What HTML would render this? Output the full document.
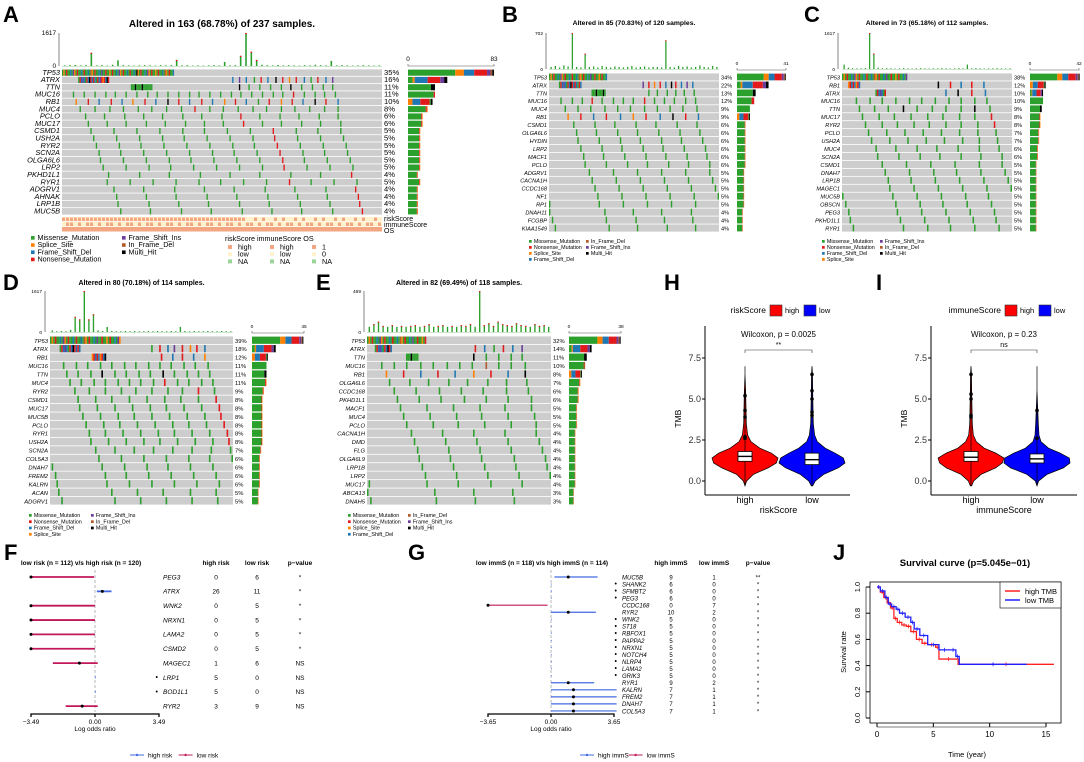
<!DOCTYPE html>
<html><head><meta charset="utf-8"><style>
html,body{margin:0;padding:0;background:#fff;}
svg{display:block;font-family:"Liberation Sans",Arial,sans-serif;}
</style></head><body>
<svg id="c" width="1084" height="762" viewBox="0 0 1084 762"></svg>
<script>
// ---------- DATA ----------
const genesA=["TP53","ATRX","TTN","MUC16","RB1","MUC4","PCLO","MUC17","CSMD1","USH2A","RYR2","SCN2A","OLGA6L6","LRP2","PKHD1L1","RYR1","ADGRV1","AHNAK","LRP1B","MUC5B"];
const pctA=[35,16,11,11,10,8,6,6,5,5,5,5,5,5,4,5,4,4,4,4];
const tmbA=[30,40,50,30,40,650,30,40,20,60,280,40,30,20,30,40,30,20,40,30,40,300,30,40,20,30,20,30,40,30,200,30,40,500,1617,700,300,60,40,30,50,30,40,30,20,40,30,60,40,30,250,30,40,30,20,30,40,30,20,30];
const genesB=["TP53","ATRX","TTN","MUC16","MUC4","RB1","CSMD1","OLGA6L6","HYDIN","LRP2","MACF1","PCLO","ADGRV1","CACNA1H","CCDC168","NF1","RP1","DNAH11","FCGBP","KIAA1549"];
const pctB=[34,22,13,12,9,9,6,6,6,6,6,6,5,5,5,5,5,4,4,4];
const tmbB=[40,60,30,70,50,702,40,30,300,40,50,30,60,40,30,50,40,30,40,60,30,40,50,30,40,40,30,560,40,30,60,40,50,30,40,70,40,30,60,40];
const genesC=["TP53","RB1","ATRX","MUC16","TTN","MUC17","RYR2","PCLO","USH2A","MUC4","SCN2A","CSMD1","DNAH7","LRP1B","MAGEC1","MUC5B","OBSCN","PEG3","PKHD1L1","RYR1"];
const pctC=[38,12,10,10,9,8,8,7,7,6,6,5,5,5,5,5,5,5,5,5];
const tmbC=[200,60,40,30,30,40,1617,700,60,30,40,30,20,30,40,30,20,30,40,30,20,30,30,40,30,20,30,40,30,200,30,40,30,20,30,30,40,30,20,30];
const genesD=["TP53","ATRX","RB1","MUC16","TTN","MUC4","RYR2","CSMD1","MUC17","MUC5B","PCLO","RYR1","USH2A","SCN2A","COL5A3","DNAH7","FREM2","KALRN","ACAN","ADGRV1"];
const pctD=[39,18,12,11,11,11,9,8,8,8,8,8,8,7,6,6,6,6,5,5];
const tmbD=[60,30,40,30,80,600,500,1617,500,700,60,40,200,40,30,30,40,30,40,30,30,40,30,40,30,30,40,30,200,40,30,40,30,30,40,30,30,40,30,30];
const genesE=["TP53","ATRX","TTN","MUC16","RB1","OLGA6L6","CCDC168","PKHD1L1","MACF1","MUC4","PCLO","CACNA1H","DMD","FLG","OLGA6L9","LRP1B","LRP2","MUC17","ABCA13","DNAH5"];
const pctE=[32,14,11,10,8,7,6,6,5,5,5,4,4,4,4,4,4,4,3,3];
const tmbE=[60,90,120,70,60,80,60,70,60,70,80,60,70,90,60,70,80,60,70,60,80,70,90,60,469,80,100,70,120,90,80,70,100,80,70,60,90,70,80,60];

const riskGenes=["PEG3","ATRX","WNK2","NRXN1","LAMA2","CSMD2","MAGEC1","LRP1","BOD1L1","RYR2"];
const riskHigh=[0,26,0,0,0,0,1,5,5,3];
const riskLow=[6,11,5,5,5,5,6,0,0,9];
const riskP=["*","*","*","*","*","*","NS","NS","NS","NS"];
const riskOR=[-3.49,0.4,-3.49,-3.49,-3.49,-3.49,-0.85,0.02,0.02,-0.7];
const riskLo=[-3.49,0.1,-3.49,-3.49,-3.49,-3.49,-2.3,0.0,0.0,-1.6];
const riskHi=[-0.05,0.9,0.0,0.0,0.0,0.0,0.15,0.04,0.04,0.15];

const immGenes=["MUC5B","SHANK2","SFMBT2","PEG3","CCDC168","RYR2","WNK2","ST18","RBFOX1","PAPPA2","NRXN1","NOTCH4","NLRP4","LAMA2","GRIK3","RYR1","KALRN","FREM2","DNAH7","COL5A3"];
const immHigh=[9,6,6,6,0,10,5,5,5,5,5,5,5,5,5,9,7,7,7,7];
const immLow=[1,0,0,0,7,2,0,0,0,0,0,0,0,0,0,2,1,1,1,1];
const immP=["**","*","*","*","*","*","*","*","*","*","*","*","*","*","*","*","*","*","*","*"];
const immOR=[1.0,0.02,0.02,0.02,-3.65,1.0,0.02,0.02,0.02,0.02,0.02,0.02,0.02,0.02,0.02,1.0,1.3,1.3,1.3,1.3];
const immLo=[0.2,0,0,0,-3.65,0,0,0,0,0,0,0,0,0,0,0,0,0,0,0];
const immHi=[2.7,0.04,0.04,0.04,-0.2,2.6,0.04,0.04,0.04,0.04,0.04,0.04,0.04,0.04,0.04,2.5,3.8,3.8,3.8,3.8];

const violinGrid=[-0.3,0,0.4,0.8,1.1,1.4,1.7,2.0,2.4,2.8,3.5,4.5,5.5,6.5,7.0];
const riskHighDens=[0,0.05,0.25,0.7,0.95,1.0,0.8,0.45,0.18,0.08,0.04,0.03,0.02,0,0];
const riskLowDens=[0.02,0.1,0.35,0.8,1.0,0.95,0.7,0.4,0.16,0.08,0.04,0.03,0.02,0.015,0];
const immHighDens=[0.02,0.08,0.3,0.75,0.95,1.0,0.75,0.4,0.16,0.07,0.04,0.03,0.02,0.015,0];
const immLowDens=[0,0.05,0.3,0.8,1.0,0.98,0.7,0.35,0.12,0.06,0.04,0.02,0,0,0];
const riskBoxes=[[1.2,1.5,1.8],[1.0,1.3,1.7]];
const immBoxes=[[1.2,1.45,1.8],[1.1,1.35,1.65]];
const riskOut=[[2.6,2.7,3.9,4.3,5.2],[4.0,4.2,5.0,5.5,6.5]];
const immOut=[[3.9,4.0,5.0,5.3,6.5],[2.6,4.3]];

const kmHighT=[0,0.3,0.6,0.9,1.2,1.5,1.8,2.2,2.6,3.0,3.5,4.0,4.5,5.2,5.5,7.2,15.7];
const kmHighS=[1,0.96,0.92,0.88,0.84,0.76,0.73,0.71,0.70,0.66,0.60,0.57,0.56,0.54,0.45,0.41,0.41];
const kmLowT=[0,0.3,0.7,1.0,1.3,1.7,2.0,2.5,3.0,3.3,3.8,4.5,5.5,6.5,7.0,7.3,13.3];
const kmLowS=[1,0.97,0.92,0.87,0.85,0.83,0.80,0.77,0.73,0.68,0.63,0.56,0.52,0.52,0.47,0.41,0.41];

// ---------- HELPERS ----------
const NS="http://www.w3.org/2000/svg";
const svg=document.getElementById('c');
function mk(tag,a,p){const e=document.createElementNS(NS,tag);for(const k in a)e.setAttribute(k,a[k]);(p||svg).appendChild(e);return e;}
function tx(x,y,s,a,p){const t=mk('text',Object.assign({x:x,y:y},a||{}),p);t.textContent=s;return t;}
const G='#2CA02C',R='#E31A1C',B='#1F78B4',O='#FF7F00',P='#6A3D9A',K='#000000',BR='#B15928';
const segTP=[[G,.55],[O,.1],[B,.12],[R,.15],[P,.04],[BR,.02],[K,.02]];
const segATRX=[[G,.12],[O,.05],[B,.33],[R,.32],[P,.1],[K,.08]];
const segRB1=[[O,.18],[B,.32],[R,.38],[G,.05],[K,.07]];
const segTTN=[[G,.85],[K,.15]];
const segDef=[[G,.9],[R,.06],[O,.04]];

function letter(x,y,s){const t=tx(x,y,s,{'font-size':22,'font-weight':'bold'});

}

function onco(c){
 const g=mk('g',{});
 
 
 const genes=c.genes,pct=c.pct,n=c.n;
 const W=c.x1-c.x0,rh=(c.y1-c.y0)/genes.length,cw=W/n;
 const t=tx((c.x0+c.x1)/2,c.ty,c.title,{'font-size':c.tfs,'font-weight':'bold','text-anchor':'middle'},g);
 
 
 mk('line',{x1:c.hx,y1:c.hTop,x2:c.hx,y2:c.hBot,stroke:'#333','stroke-width':0.6},g);
 tx(c.hx-3,c.hTop+2,String(c.hMax),{'font-size':c.sfs*0.8,'text-anchor':'end'},g);
 tx(c.hx-3,c.hBot+2,'0',{'font-size':c.sfs*0.8,'text-anchor':'end'},g);
 const bw=W/c.tmb.length;
 c.tmb.forEach((v,i)=>{const h=v/c.hMax*(c.hBot-c.hTop);
  const r=mk('rect',{x:c.x0+i*bw+bw*0.35,y:c.hBot-h,width:bw*0.3,height:h,fill:G},g);
  
  
  if(h>6)mk('rect',{x:c.x0+i*bw+bw*0.35,y:c.hBot-h,width:bw*0.3,height:1.2,fill:R},g);});
 mk('line',{x1:c.x0,y1:c.hBot+0.5,x2:c.x1,y2:c.hBot+0.5,stroke:'#9c9',"stroke-width":0.6},g);
 const by=c.y0-3;
 mk('path',{d:`M${c.bx0},${by-2}V${by}H${c.bx1}V${by-2}`,stroke:'#555',fill:'none','stroke-width':0.6},g);
 tx(c.bx0,by-5,'0',{'font-size':c.sfs*0.8,'text-anchor':'middle'},g);
 tx(c.bx1,by-5,String(c.max),{'font-size':c.sfs*0.8,'text-anchor':'middle'},g);
 genes.forEach((gn,i)=>{
  const y=c.y0+i*rh;
  const bg=mk('rect',{x:c.x0,y:y+0.4,width:W,height:rh-0.8,fill:'#CDCDCD'},g);
  
  
  const segs=c.segs[i]||segDef;
  const k=Math.round(pct[i]*n/100);
  for(let j=0;j<k;j++){
   let col=i===0?j:Math.floor(((j+0.5)/k)*n*0.85+i*1.7)%n;
   if(i>0&&i<3&&j<k*0.6)col=Math.floor(n*0.02*i+j*1.0+(i===1?k*0.2:k*1.6))%n;
   let u=(j*0.618034)%1,acc=0,col2=segs[0][0];
   for(const s of segs){acc+=s[1];if(u<acc){col2=s[0];break;}}
   const cell=mk('rect',{x:c.x0+col*cw,y:y+0.6,width:Math.max(cw,1.2),height:rh-1.2,fill:col2},g);
   
   
  }
  tx(c.x0-2,y+rh*0.8,gn,{'font-size':c.gfs,'font-style':'italic','text-anchor':'end'},g);
  tx(c.x1+2,y+rh*0.8,pct[i]+'%',{'font-size':c.pfs},g);
  const len=(pct[i]*n/100)/c.max*(c.bx1-c.bx0);let xx=c.bx0;
  segs.forEach(s=>{const w=len*s[1];
   const br=mk('rect',{x:xx,y:y+0.6,width:w,height:rh-1.2,fill:s[0]},g);
   
   
   xx+=w;});
 });
 c.legend.forEach((it,i)=>{
  const lx=c.lx[it[2]],ly=c.ly+it[3]*c.lpitch;
  mk('rect',{x:lx,y:ly-c.lfs*0.55,width:c.lfs*0.5,height:c.lfs*0.5,fill:it[1]},g);
  const lt=tx(lx+c.lfs*0.9,ly,it[0],{'font-size':c.lfs},g);
  
  
 });
}
const L1=[["Missense_Mutation",G,0,0],["Splice_Site",O,0,1],["Frame_Shift_Del",B,0,2],["Nonsense_Mutation",R,0,3],["Frame_Shift_Ins",P,1,0],["In_Frame_Del",BR,1,1],["Multi_Hit",K,1,2]];
const L2=[["Missense_Mutation",G,0,0],["Nonsense_Mutation",R,0,1],["Splice_Site",O,0,2],["Frame_Shift_Del",B,0,3],["In_Frame_Del",BR,1,0],["Frame_Shift_Ins",P,1,1],["Multi_Hit",K,1,2]];
const L3=[["Missense_Mutation",G,0,0],["Nonsense_Mutation",R,0,1],["Frame_Shift_Del",B,0,2],["Splice_Site",O,0,3],["Frame_Shift_Ins",P,1,0],["In_Frame_Del",BR,1,1],["Multi_Hit",K,1,2]];

letter(3,22,"A");
onco({name:'oncoplot-a',genes:genesA,pct:pctA,n:237,max:83,tmb:tmbA,hMax:1617,x0:62,x1:382,y0:69,y1:215,hx:59,hTop:33,hBot:66,bx0:408,bx1:494,title:"Altered in 163 (68.78%) of 237 samples.",ty:27,tfs:10,gfs:7.4,pfs:7.6,sfs:8,
 segs:[segTP,segATRX,segTTN,[[G,.95],[R,.05]],segRB1],legend:L1,lx:[31,122],ly:240,lpitch:7.2,lfs:7.2});
[[217,'#F4A582','#FFF2CC',0.57],[222,'#F4A582','#FFF2CC',0.5],[227,'#FFF2CC','#F4A582',0.5]].forEach((a,i)=>{
 const r=mk('rect',{x:62,y:a[0],width:320,height:4.5,fill:a[2]});
 
 
 for(let j=0;j<80;j++){if((j*7+i*3)%5<(i===0?(j<45?5:2):3))mk('rect',{x:62+j*4,y:a[0]+0.5,width:3,height:3.5,fill:'#F4A582'});}
});
tx(384,221,"riskScore",{'font-size':7});tx(384,227,"immuneScore",{'font-size':7});tx(384,233,"OS",{'font-size':7});
tx(225,241,"riskScore  immuneScore  OS",{'font-size':7.2});
[[228,["high","low","NA"]],[270,["high","low","NA"]],[312,["1","0","NA"]]].forEach(c=>{
 c[1].forEach((s,i)=>{mk('rect',{x:c[0],y:245+i*7.2,width:4,height:4,fill:['#F4A582','#FFF2CC','#9BD49B'][i]});tx(c[0]+10,249.5+i*7.2,s,{'font-size':7.2});});
});

letter(502,22,"B");
onco({name:'oncoplot-b',genes:genesB,pct:pctB,n:120,max:41,tmb:tmbB,hMax:702,x0:549,x1:719,y0:73,y1:232,hx:546,hTop:33,hBot:69,bx0:737,bx1:786,title:"Altered in 85 (70.83%) of 120 samples.",ty:25,tfs:6.8,gfs:5.6,pfs:5.6,sfs:6,
 segs:[segTP,segATRX,segTTN,[[G,.85],[R,.15]],[[G,1]],segRB1],legend:L2,lx:[529,586],ly:243,lpitch:6,lfs:5.4});

letter(804,22,"C");
onco({name:'oncoplot-c',genes:genesC,pct:pctC,n:112,max:42,tmb:tmbC,hMax:1617,x0:842,x1:1012,y0:73,y1:232,hx:838,hTop:33,hBot:69,bx0:1030,bx1:1079,title:"Altered in 73 (65.18%) of 112 samples.",ty:25,tfs:6.8,gfs:5.6,pfs:5.6,sfs:6,
 segs:[segTP,segRB1,segATRX,[[G,1]],segTTN],legend:L3,lx:[822,880],ly:243,lpitch:6,lfs:5.4});

letter(3,290,"D");
onco({name:'oncoplot-d',genes:genesD,pct:pctD,n:114,max:45,tmb:tmbD,hMax:1617,x0:50,x1:233,y0:336,y1:505,hx:45,hTop:291,hBot:332,bx0:252,bx1:304,title:"Altered in 80 (70.18%) of 114 samples.",ty:285,tfs:7,gfs:5.8,pfs:5.8,sfs:6,
 segs:[segTP,segATRX,segRB1,[[G,1]],segTTN],legend:L3,lx:[29,91],ly:517,lpitch:6.3,lfs:5.4});

letter(316,290,"E");
onco({name:'oncoplot-e',genes:genesE,pct:pctE,n:118,max:38,tmb:tmbE,hMax:469,x0:367,x1:551,y0:336,y1:505,hx:364,hTop:291,hBot:332,bx0:569,bx1:621,title:"Altered in 82 (69.49%) of 118 samples.",ty:285,tfs:7,gfs:5.8,pfs:5.8,sfs:6,
 segs:[segTP,segATRX,segTTN,[[G,.9],[BR,.1]],segRB1],legend:L2,lx:[348,408],ly:517,lpitch:6.3,lfs:5.4});

// ---------- VIOLINS ----------
function violin(c){
 const g=mk('g',{});
 
 
 const ys=v=>481-v*16.4;
 mk('line',{x1:c.ax,y1:326,x2:c.ax,y2:495,stroke:'#000','stroke-width':1},g);
 mk('line',{x1:c.ax,y1:495,x2:c.ax2,y2:495,stroke:'#000','stroke-width':1},g);
 [0,2.5,5,7.5].forEach(v=>{mk('line',{x1:c.ax-3,y1:ys(v),x2:c.ax,y2:ys(v),stroke:'#000'},g);
  tx(c.ax-4,ys(v)+3,v.toFixed(1),{'font-size':9,'text-anchor':'end',fill:'#333'},g);});
 const yt=tx(c.ax-24,ys(3.8),"TMB",{'font-size':8.5,'text-anchor':'middle',transform:`rotate(-90 ${c.ax-24} ${ys(3.8)})`},g);
 
 
 c.xs.forEach((x,k)=>{
  const d=c.dens[k];let pts=[];
  violinGrid.forEach((v,i)=>pts.push([x+d[i]*33,ys(v)]));
  for(let i=violinGrid.length-1;i>=0;i--)pts.push([x-d[i]*33,ys(violinGrid[i])]);
  const vp=mk('path',{d:'M'+pts.map(p=>p.join(',')).join('L')+'Z',fill:k?'#0000FF':'#FF0000',stroke:'#000','stroke-width':0.7},g);
  
  
  mk('line',{x1:x,y1:ys(violinGrid[0]),x2:x,y2:ys(c.out[k][c.out[k].length-1]+0.4),stroke:'#000','stroke-width':0.7},g);
  const bx=c.box[k];
  const br=mk('rect',{x:x-7,y:ys(bx[2]),width:14,height:ys(bx[0])-ys(bx[2]),fill:'#fff',stroke:'#000','stroke-width':0.8},g);
  
  
  mk('line',{x1:x-7,y1:ys(bx[1]),x2:x+7,y2:ys(bx[1]),stroke:'#000','stroke-width':1.4},g);
  c.out[k].forEach(v=>{const pt=mk('circle',{cx:x,cy:ys(v),r:1.8,fill:'#000'},g);
   
   });
  tx(x,503,c.labels[k],{'font-size':9,'text-anchor':'middle'},g);
 });
 tx((c.xs[0]+c.xs[1])/2,513,c.var,{'font-size':9,'text-anchor':'middle'},g);
 tx((c.xs[0]+c.xs[1])/2,337,c.wil,{'font-size':8,'text-anchor':'middle'},g);
 mk('path',{d:`M${c.xs[0]},353V350H${c.xs[1]}V353`,fill:'none',stroke:'#333','stroke-width':0.6},g);
 tx((c.xs[0]+c.xs[1])/2,347,c.sig,{'font-size':7,'text-anchor':'middle'},g);
 tx(c.lx,313,c.var,{'font-size':8.5,'text-anchor':'end'},g);
 const l1=mk('rect',{x:c.lx+4,y:305,width:12,height:11,fill:'#FF0000',stroke:'#333','stroke-width':0.6},g);
 
 
 tx(c.lx+19,313,"high",{'font-size':7.5},g);
 const l2=mk('rect',{x:c.lx+38,y:305,width:12,height:11,fill:'#0000FF',stroke:'#333','stroke-width':0.6},g);
 
 
 tx(c.lx+53,313,"low",{'font-size':7.5},g);
}
letter(664,290,"H");
violin({name:'violin-riskscore',ax:705,ax2:850,xs:[745,812],labels:['high','low'],dens:[riskHighDens,riskLowDens],box:riskBoxes,out:riskOut,var:'riskScore',wil:'Wilcoxon, p = 0.0025',sig:'**',lx:766});
letter(876,290,"I");
violin({name:'violin-immunescore',ax:931,ax2:1077,xs:[971,1037],labels:['high','low'],dens:[immHighDens,immLowDens],box:immBoxes,out:immOut,var:'immuneScore',wil:'Wilcoxon, p = 0.23',sig:'ns',lx:1001});

// ---------- FOREST ----------
function forest(c){
 const g=mk('g',{});
 
 
 const xs=v=>c.x0+v*c.sc;
 tx(c.hx,565,c.header,{'font-size':6.5,'font-weight':'bold','text-anchor':'middle'},g);
 [[c.c1,c.h1],[c.c2,c.h2],[c.c3,"p−value"]].forEach(h=>tx(h[0],565,h[1],{'font-size':6.5,'font-weight':'bold','text-anchor':'middle'},g));
 mk('line',{x1:xs(0),y1:570,x2:xs(0),y2:c.yAx-2,stroke:'#999','stroke-dasharray':'3,2','stroke-width':0.7},g);
 c.genes.forEach((gn,i)=>{
  const y=c.y0+i*c.pitch;
  const col=c.or[i]<0?'#C2185B':'#4169E1';
  const ln=mk('line',{x1:xs(c.lo[i]),y1:y,x2:xs(c.hi[i]),y2:y,stroke:col,'stroke-width':c.lw},g);
  
  
  if(Math.abs(c.or[i])>0.1){const pt=mk('circle',{cx:xs(c.or[i]),cy:y,r:1.5,fill:'#000'},g);
   
   }
  if(c.lb[i]===0)tx(c.gx-5,y+2,"•",{'font-size':7,'text-anchor':'end'},g);
  tx(c.gx,y+2.3,gn,{'font-size':c.fs,'font-style':'italic'},g);
  tx(c.c1,y+2.3,String(c.hb[i]),{'font-size':c.fs,'text-anchor':'middle'},g);
  tx(c.c2,y+2.3,String(c.lb[i]),{'font-size':c.fs,'text-anchor':'middle'},g);
  tx(c.c3,y+2.3,c.p[i],{'font-size':c.fs,'text-anchor':'middle'},g);
 });
 mk('path',{d:`M${xs(-c.lim)},${c.yAx+3}V${c.yAx}H${xs(c.lim)}V${c.yAx+3}M${xs(0)},${c.yAx}V${c.yAx+3}`,fill:'none',stroke:'#000','stroke-width':1.3},g);
 [-c.lim,0,c.lim].forEach(v=>tx(xs(v),c.yAx+10,v.toFixed(2).replace('-','−'),{'font-size':6.5,'text-anchor':'middle'},g));
 tx(xs(0),731,"Log odds ratio",{'font-size':6.5,'text-anchor':'middle'},g);
 mk('line',{x1:c.lgx,y1:755,x2:c.lgx+14,y2:755,stroke:'#4169E1'},g);mk('circle',{cx:c.lgx+7,cy:755,r:1.2,fill:'#4169E1'},g);
 tx(c.lgx+18,757.5,c.leg[0],{'font-size':6.5},g);
 const lx2=c.lgx+18+c.leg[0].length*3.4;
 mk('line',{x1:lx2,y1:755,x2:lx2+14,y2:755,stroke:'#C2185B'},g);mk('circle',{cx:lx2+7,cy:755,r:1.2,fill:'#C2185B'},g);
 tx(lx2+18,757.5,c.leg[1],{'font-size':6.5},g);
}
letter(4,560,"F");
forest({name:'forest-risk',genes:riskGenes,hb:riskHigh,lb:riskLow,p:riskP,or:riskOR,lo:riskLo,hi:riskHi,x0:95,sc:64/3.49,lim:3.49,y0:577,pitch:14.35,yAx:714,lw:1.8,fs:6.5,
 header:"low risk (n = 112) v/s high risk (n = 120)",hx:81,gx:163,c1:216,c2:257,c3:300,h1:"high risk",h2:"low risk",leg:["high risk","low risk"],lgx:130});
letter(408,560,"G");
forest({name:'forest-immune',genes:immGenes,hb:immHigh,lb:immLow,p:immP,or:immOR,lo:immLo,hi:immHi,x0:551,sc:63/3.65,lim:3.65,y0:577,pitch:7.05,yAx:714,lw:1.2,fs:6,
 header:"low immS (n = 118) v/s high immS (n = 114)",hx:542,gx:622,c1:671,c2:714,c3:758,h1:"high immS",h2:"low immS",leg:["high immS","low immS"],lgx:580});

// ---------- KM ----------
letter(833,560,"J");
(function(){
 const g=mk('g',{});
 
 
 const xs=t=>877+t*(169/15), ys=s=>718-s*131;
 tx(965,566,"Survival curve (p=5.045e−01)",{'font-size':9.5,'font-weight':'bold','text-anchor':'middle'},g);
 mk('rect',{x:870,y:582,width:191,height:141,fill:'none',stroke:'#000','stroke-width':0.8},g);
 [0,5,10,15].forEach(t=>{mk('line',{x1:xs(t),y1:723,x2:xs(t),y2:727,stroke:'#000'},g);tx(xs(t),737,String(t),{'font-size':8,'text-anchor':'middle'},g);});
 mk('line',{x1:xs(0),y1:727,x2:xs(15),y2:727,stroke:'#000','stroke-width':0.6},g);
 [0,0.2,0.4,0.6,0.8,1.0].forEach(s=>{mk('line',{x1:866,y1:ys(s),x2:870,y2:ys(s),stroke:'#000'},g);
  tx(860,ys(s),s.toFixed(1),{'font-size':7.5,'text-anchor':'middle',transform:`rotate(-90 860 ${ys(s)})`},g);});
 mk('line',{x1:866,y1:ys(0),x2:866,y2:ys(1),stroke:'#000','stroke-width':0.6},g);
 tx(967,757,"Time (year)",{'font-size':7.5,'text-anchor':'middle'},g);
 tx(846,652,"Survival rate",{'font-size':7.5,'text-anchor':'middle',transform:'rotate(-90 846 652)'},g);
 function km(T,S,col,nm){let d=`M${xs(T[0])},${ys(S[0])}`;
  for(let i=1;i<T.length;i++){d+=`H${xs(T[i])}V${ys(S[i])}`;}
  const p=mk('path',{d:d,fill:'none',stroke:col,'stroke-width':1.3},g);
  
  
  for(let i=1;i<T.length;i++){const tm=(T[i-1]+T[i])/2;mk('line',{x1:xs(tm),y1:ys(S[i-1])-2,x2:xs(tm),y2:ys(S[i-1])+2,stroke:col,'stroke-width':0.8},g);}
 }
 km(kmHighT,kmHighS,'#FF2020','km-high-tmb');
 km(kmLowT,kmLowS,'#2020FF','km-low-tmb');
 mk('rect',{x:1000,y:582,width:61,height:26,fill:'#fff',stroke:'#000','stroke-width':0.6},g);
 mk('line',{x1:1005,y1:591,x2:1020,y2:591,stroke:'#FF2020','stroke-width':1.5},g);
 tx(1025,594,"high TMB",{'font-size':7.5},g);
 mk('line',{x1:1005,y1:600,x2:1020,y2:600,stroke:'#2020FF','stroke-width':1.5},g);
 tx(1025,603,"low TMB",{'font-size':7.5},g);
})();
</script>
</body></html>
